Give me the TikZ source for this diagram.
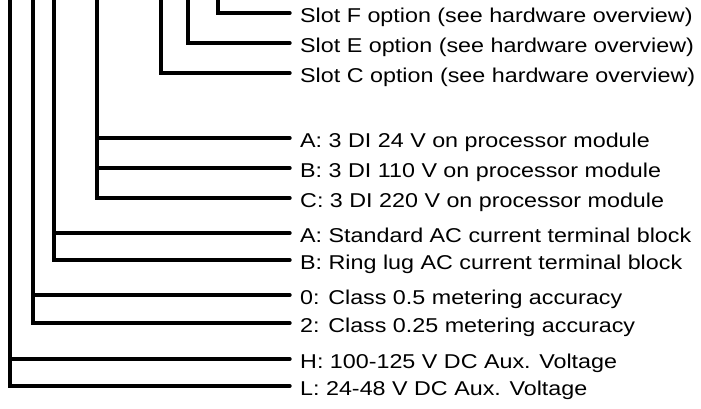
\documentclass[tikz,border=0pt]{standalone}
\usepackage{fontspec}
\newfontfamily\optfont[FakeStretch=1.165]{Liberation Sans}
\usetikzlibrary{positioning}
\tikzset{
  optlabel/.style={anchor=west,inner xsep=10pt,inner ysep=0pt,
                   text height=18.5pt,text depth=0pt,
                   font=\optfont\fontsize{20}{23}\selectfont},
  branch/.style={draw=black,line width=3.4pt,line cap=round,line join=miter}
}
\begin{document}
\begin{tikzpicture}[x=1pt,y=-1pt]
    \useasboundingbox (0,0) rectangle (701,409);
    % tops of the code positions
    \coordinate (topAux)  at (10,-6);
    \coordinate (topCls)  at (33,-6);
    \coordinate (topTerm) at (54,-6);
    \coordinate (topDI)   at (97,-6);
    \coordinate (topC)    at (161,-6);
    \coordinate (topE)    at (188,-6);
    \coordinate (topF)    at (218,-6);
    % option texts
    \node[optlabel] (slotF) at (290,13) {Slot F option (see hardware overview)};
    \node[optlabel] (slotE) at (290,43) {Slot E option (see hardware overview)};
    \node[optlabel] (slotC) at (290,73) {Slot C option (see hardware overview)};
    \node[optlabel] (diA) at (290,138) {A: 3 DI 24 V on processor module};
    \node[optlabel] (diB) at (290,168) {B: 3 DI 110 V on processor module};
    \node[optlabel] (diC) at (290,198) {C: 3 DI 220 V on processor module};
    \node[optlabel] (termA) at (290,233) {A: Standard AC current terminal block};
    \node[optlabel] (termB) at (290,260) {B: Ring lug AC current terminal block};
    \node[optlabel] (cls0) at (290,295) {0: Class 0.5 metering accuracy};
    \node[optlabel] (cls2) at (290,323) {2: Class 0.25 metering accuracy};
    \node[optlabel] (auxH) at (290,359) {H: 100-125 V DC Aux. Voltage};
    \node[optlabel] (auxL) at (290,386) {L: 24-48 V DC Aux. Voltage};
    % branches
    \draw[branch] (topF) |- (slotF.west);
    \draw[branch] (topE) |- (slotE.west);
    \draw[branch] (topC) |- (slotC.west);
    \draw[branch] (topDI) |- (diC.west);
    \draw[branch] (topDI |- diA.west) -- (diA.west);
    \draw[branch] (topDI |- diB.west) -- (diB.west);
    \draw[branch] (topTerm) |- (termB.west);
    \draw[branch] (topTerm |- termA.west) -- (termA.west);
    \draw[branch] (topCls) |- (cls2.west);
    \draw[branch] (topCls |- cls0.west) -- (cls0.west);
    \draw[branch] (topAux) |- (auxL.west);
    \draw[branch] (topAux |- auxH.west) -- (auxH.west);
\end{tikzpicture}
\end{document}
